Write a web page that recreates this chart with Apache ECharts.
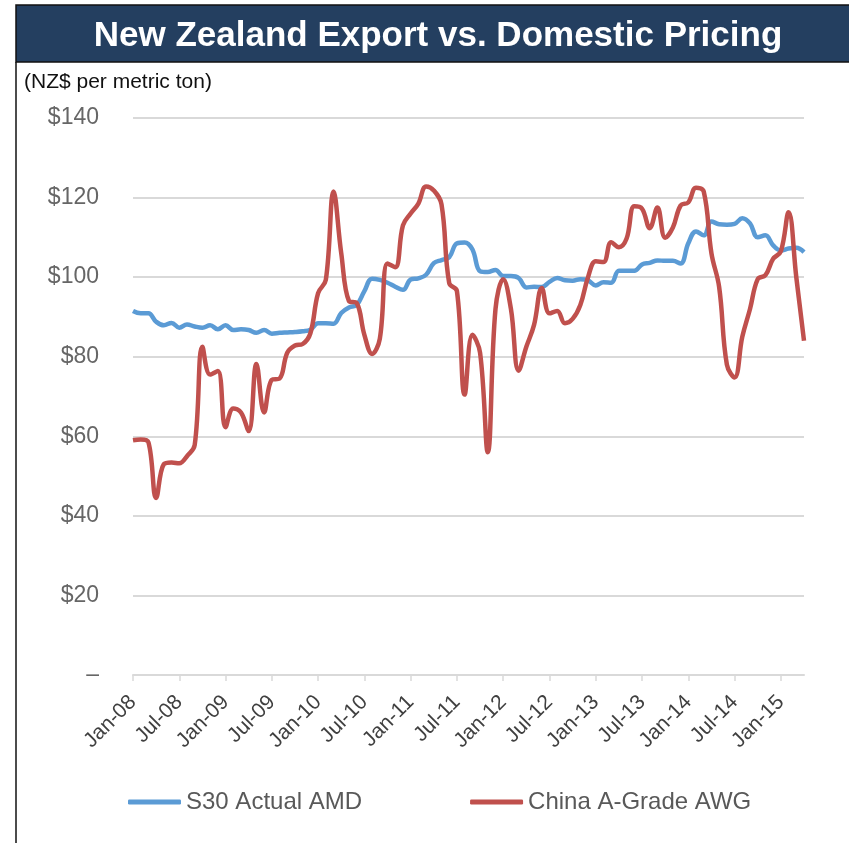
<!DOCTYPE html>
<html>
<head>
	<meta charset="utf-8">
	<title>New Zealand Export vs. Domestic Pricing</title>
	<style>
		html, body { margin: 0; padding: 0; background: #fff; }
	</style>
</head>

<body>
	<div style="width:849px;height:843px;" id="chart1"></div>

	<script src="https://cdn.jsdelivr.net/npm/echarts@6/dist/echarts.min.js"></script>
	<script>

	// monthly, Jan-08 .. Apr-15
	var monthNames = ['Jan', 'Feb', 'Mar', 'Apr', 'May', 'Jun', 'Jul', 'Aug', 'Sep', 'Oct', 'Nov', 'Dec'];
	var firstYear = 8, monthCount = 88;

	var s30Actual = [
		91.5, 90.9, 90.9, 88.8, 87.9, 88.5, 87.3, 88.1, 87.6, 87.3, 87.9, 86.9,
		87.9, 86.7, 86.9, 86.7, 86.0, 86.7, 85.8, 86.0, 86.1, 86.2, 86.4, 86.8,
		88.4, 88.4, 88.3, 91.0, 92.4, 93.0, 96.5, 99.6, 99.3, 98.6, 97.6, 96.8,
		99.4, 99.7, 100.6, 103.5, 104.3, 105.0, 108.5, 108.7, 107.0, 101.5, 101.3, 101.8,
		100.3, 100.3, 99.8, 97.4, 97.6, 97.5, 98.8, 99.8, 99.2, 99.1, 99.5, 99.2,
		97.9, 98.7, 98.6, 101.6, 101.6, 101.6, 103.2, 103.6, 104.2, 104.1, 104.1, 103.4,
		108.5, 111.5, 110.5, 114.0, 113.3, 113.2, 113.4, 114.8, 113.5, 110.0, 110.5, 108.0,
		106.7, 107.2, 107.4, 106.3
	];

	var chinaAGrade = [
		59.0, 59.2, 58.5, 44.5, 53.0, 53.4, 53.2, 55.0, 57.8, 82.5, 75.5, 76.4,
		62.3, 67.0, 66.0, 61.3, 78.2, 66.0, 74.2, 74.5, 81.0, 82.8, 83.2, 85.9,
		96.0, 99.3, 121.5, 106.0, 94.0, 93.5, 85.5, 80.7, 84.5, 103.4, 102.5, 113.0,
		116.0, 118.5, 122.8, 121.8, 118.3, 98.5, 96.5, 70.5, 85.5, 81.0, 56.0, 92.0,
		99.5, 92.0, 76.5, 82.5, 88.0, 97.3, 90.9, 91.5, 88.4, 89.5, 93.0, 100.0,
		104.0, 103.8, 108.8, 107.5, 109.7, 117.8, 117.2, 112.3, 117.5, 109.9, 112.5, 118.0,
		118.8, 122.5, 121.5, 106.0, 97.5, 78.0, 74.8, 85.0, 92.0, 99.5, 100.5, 104.6,
		106.5, 116.3, 100.0, 84.0
	];

	var seriesNames = ['S30 Actual AMD', 'China A-Grade AWG'];

	var months = [];
	for (var i = 0; i < monthCount; i++) {
		var yy = firstYear + Math.floor(i / 12);
		months.push(monthNames[i % 12] + '-' + (yy < 10 ? '0' + yy : yy));
	}

	var myChart = echarts.init(document.getElementById('chart1'));
	var font = 'Liberation Sans, Arial, sans-serif';

	var option = {
		animation: false,
		textStyle: { fontFamily: font },
		graphic: [
			{
				type: 'rect',
				shape: { x: 16, y: 5, width: 840, height: 57 },
				style: { fill: '#243F60', stroke: '#111', lineWidth: 1.5 },
				z: 0
			},
			{
				type: 'line',
				shape: { x1: 16, y1: 62, x2: 16, y2: 843 },
				style: { stroke: '#111', lineWidth: 1.5 }
			},
			{
				type: 'text',
				left: 24,
				top: 72,
				style: { text: '(NZ$ per metric ton)', fill: '#111', font: '21px ' + font }
			}
		],
		title: {
			text: 'New Zealand Export vs. Domestic Pricing',
			left: 433,
			top: 14,
			textAlign: 'center',
			textStyle: { color: '#fff', fontSize: 35, fontWeight: 'bold', fontFamily: font }
		},
		legend: {
			data: seriesNames,
			left: 123,
			top: 785,
			itemWidth: 53,
			itemHeight: 5,
			itemGap: 108,
			icon: 'roundRect',
			textStyle: { color: '#595959', fontSize: 24, fontFamily: font }
		},
		grid: { left: 133, right: 45, top: 118, bottom: 168, containLabel: false },
		xAxis: {
			type: 'category',
			data: months,
			boundaryGap: false,
			axisLine: { lineStyle: { color: '#D9D9D9', width: 2 } },
			axisTick: { interval: 5, length: 6, lineStyle: { color: '#D9D9D9', width: 1.5 } },
			axisLabel: { interval: 5, rotate: 45, margin: 24, color: '#404040', fontSize: 21, fontFamily: font }
		},
		yAxis: {
			type: 'value',
			min: 0,
			max: 140,
			interval: 20,
			axisLine: { show: false },
			axisTick: { show: false },
			splitLine: { lineStyle: { color: '#D9D9D9', width: 2 } },
			axisLabel: {
				margin: 34,
				color: '#666666',
				fontSize: 23,
				fontFamily: font,
				formatter: function (v) { return v === 0 ? '–' : '$' + v; }
			}
		},
		series: [
			{
				name: seriesNames[0],
				type: 'line',
				data: s30Actual,
				smooth: 0.4,
				showSymbol: false,
				color: '#5B9BD5',
				lineStyle: { width: 4.5, color: '#5B9BD5' }
			},
			{
				name: seriesNames[1],
				type: 'line',
				data: chinaAGrade,
				smooth: 0.4,
				showSymbol: false,
				color: '#C0504D',
				lineStyle: { width: 4.5, color: '#C0504D' }
			}
		]
	};

	myChart.setOption(option);

	</script>
</body>

</html>
